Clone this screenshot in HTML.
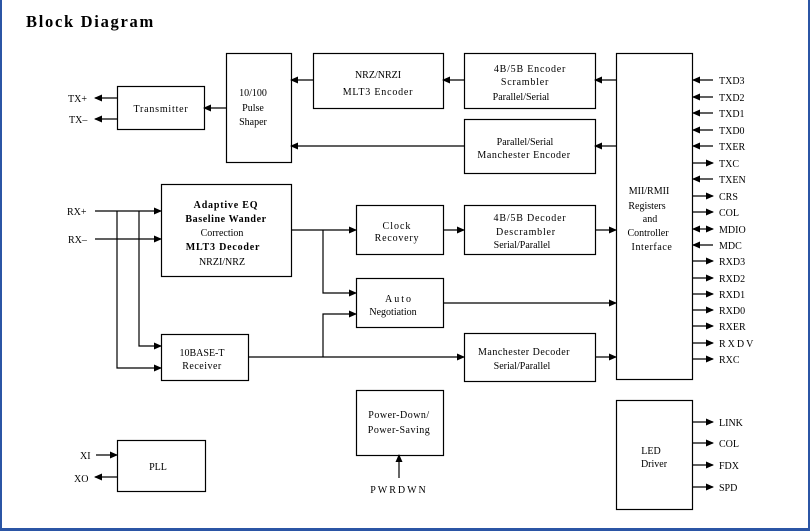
<!DOCTYPE html>
<html><head><meta charset="utf-8"><style>
html,body{margin:0;padding:0;background:#fff;}
svg{display:block;}
text{font-family:"Liberation Serif",serif;font-size:10px;fill:#000;}
</style></head><body>
<svg width="810" height="531" viewBox="0 0 810 531" xmlns="http://www.w3.org/2000/svg">
<defs>
<marker id="a" markerWidth="8" markerHeight="8" refX="7" refY="4" orient="auto" markerUnits="userSpaceOnUse">
<path d="M0,0.5 L8,4 L0,7.5 Z" fill="#000"/></marker>
</defs>
<rect x="0" y="0" width="810" height="531" fill="#fff"/>
<rect x="0" y="0" width="2" height="531" fill="#2b55a5"/>
<rect x="808" y="0" width="2" height="531" fill="#2b55a5"/>
<rect x="0" y="528" width="810" height="3" fill="#2b55a5"/>
<text x="26" y="27" style="font-size:16.5px;font-weight:bold;letter-spacing:1.7px">Block Diagram</text>
<g fill="none" stroke="#000" stroke-width="1.2">
<rect x="117.5" y="86.5" width="87" height="43"/>
<rect x="226.5" y="53.5" width="65" height="109"/>
<rect x="313.5" y="53.5" width="130" height="55"/>
<rect x="464.5" y="53.5" width="131" height="55"/>
<rect x="464.5" y="119.5" width="131" height="54"/>
<rect x="616.5" y="53.5" width="76" height="326"/>
<rect x="161.5" y="184.5" width="130" height="92"/>
<rect x="356.5" y="205.5" width="87" height="49"/>
<rect x="464.5" y="205.5" width="131" height="49"/>
<rect x="356.5" y="278.5" width="87" height="49"/>
<rect x="161.5" y="334.5" width="87" height="46"/>
<rect x="464.5" y="333.5" width="131" height="48"/>
<rect x="356.5" y="390.5" width="87" height="65"/>
<rect x="117.5" y="440.5" width="88" height="51"/>
<rect x="616.5" y="400.5" width="76" height="109"/>
</g>
<g stroke="#000" stroke-width="1.2" fill="none">
<line x1="616" y1="80" x2="595" y2="80" marker-end="url(#a)"/>
<line x1="616" y1="146" x2="595" y2="146" marker-end="url(#a)"/>
<line x1="464" y1="80" x2="443" y2="80" marker-end="url(#a)"/>
<line x1="313" y1="80" x2="291" y2="80" marker-end="url(#a)"/>
<line x1="464" y1="146" x2="291" y2="146" marker-end="url(#a)"/>
<line x1="226" y1="108" x2="204" y2="108" marker-end="url(#a)"/>
<line x1="117" y1="98" x2="95" y2="98" marker-end="url(#a)"/>
<line x1="117" y1="119" x2="95" y2="119" marker-end="url(#a)"/>
<line x1="95" y1="211" x2="161" y2="211" marker-end="url(#a)"/>
<line x1="95" y1="239" x2="161" y2="239" marker-end="url(#a)"/>
<polyline points="117,211 117,368 161,368" marker-end="url(#a)"/>
<polyline points="139,211 139,346 161,346" marker-end="url(#a)"/>
<line x1="291" y1="230" x2="356" y2="230" marker-end="url(#a)"/>
<polyline points="323,230 323,293 356,293" marker-end="url(#a)"/>
<line x1="248" y1="357" x2="464" y2="357" marker-end="url(#a)"/>
<polyline points="323,357 323,314 356,314" marker-end="url(#a)"/>
<line x1="443" y1="230" x2="464" y2="230" marker-end="url(#a)"/>
<line x1="595" y1="230" x2="616" y2="230" marker-end="url(#a)"/>
<line x1="443" y1="303" x2="616" y2="303" marker-end="url(#a)"/>
<line x1="595" y1="357" x2="616" y2="357" marker-end="url(#a)"/>
<line x1="96" y1="455" x2="117" y2="455" marker-end="url(#a)"/>
<line x1="117" y1="477" x2="95" y2="477" marker-end="url(#a)"/>
<line x1="399" y1="478" x2="399" y2="455" marker-end="url(#a)"/>
<line x1="713" y1="80" x2="693" y2="80" marker-end="url(#a)"/>
<line x1="713" y1="97" x2="693" y2="97" marker-end="url(#a)"/>
<line x1="713" y1="113" x2="693" y2="113" marker-end="url(#a)"/>
<line x1="713" y1="130" x2="693" y2="130" marker-end="url(#a)"/>
<line x1="713" y1="146" x2="693" y2="146" marker-end="url(#a)"/>
<line x1="693" y1="163" x2="713" y2="163" marker-end="url(#a)"/>
<line x1="713" y1="179" x2="693" y2="179" marker-end="url(#a)"/>
<line x1="693" y1="196" x2="713" y2="196" marker-end="url(#a)"/>
<line x1="693" y1="212" x2="713" y2="212" marker-end="url(#a)"/>
<line x1="703" y1="229" x2="693" y2="229" marker-end="url(#a)"/>
<line x1="703" y1="229" x2="713" y2="229" marker-end="url(#a)"/>
<line x1="713" y1="245" x2="693" y2="245" marker-end="url(#a)"/>
<line x1="693" y1="261" x2="713" y2="261" marker-end="url(#a)"/>
<line x1="693" y1="278" x2="713" y2="278" marker-end="url(#a)"/>
<line x1="693" y1="294" x2="713" y2="294" marker-end="url(#a)"/>
<line x1="693" y1="310" x2="713" y2="310" marker-end="url(#a)"/>
<line x1="693" y1="326" x2="713" y2="326" marker-end="url(#a)"/>
<line x1="693" y1="343" x2="713" y2="343" marker-end="url(#a)"/>
<line x1="693" y1="359" x2="713" y2="359" marker-end="url(#a)"/>
<line x1="693" y1="422" x2="713" y2="422" marker-end="url(#a)"/>
<line x1="693" y1="443" x2="713" y2="443" marker-end="url(#a)"/>
<line x1="693" y1="465" x2="713" y2="465" marker-end="url(#a)"/>
<line x1="693" y1="487" x2="713" y2="487" marker-end="url(#a)"/>
</g>
<g text-anchor="middle">
<text x="161" y="112" style="letter-spacing:0.8px">Transmitter</text>
<text x="253" y="96">10/100</text>
<text x="253" y="111">Pulse</text>
<text x="253" y="125">Shaper</text>
<text x="378" y="78">NRZ/NRZI</text>
<text x="378" y="95" style="letter-spacing:0.8px">MLT3 Encoder</text>
<text x="530" y="72" style="letter-spacing:0.8px">4B/5B Encoder</text>
<text x="525" y="85" style="letter-spacing:0.8px">Scrambler</text>
<text x="521" y="100">Parallel/Serial</text>
<text x="525" y="145">Parallel/Serial</text>
<text x="524" y="158" style="letter-spacing:0.6px">Manchester Encoder</text>
<text x="226" y="208" style="font-weight:bold;letter-spacing:0.8px">Adaptive EQ</text>
<text x="226" y="222" style="font-weight:bold;letter-spacing:0.6px">Baseline Wander</text>
<text x="222" y="236">Correction</text>
<text x="223" y="250" style="font-weight:bold;letter-spacing:0.8px">MLT3 Decoder</text>
<text x="222" y="265">NRZI/NRZ</text>
<text x="397" y="229" style="letter-spacing:1px">Clock</text>
<text x="397" y="241" style="letter-spacing:0.8px">Recovery</text>
<text x="530" y="221" style="letter-spacing:0.8px">4B/5B Decoder</text>
<text x="526" y="235" style="letter-spacing:0.8px">Descrambler</text>
<text x="522" y="248">Serial/Parallel</text>
<text x="399" y="302" style="letter-spacing:2px">Auto</text>
<text x="393" y="315">Negotiation</text>
<text x="202" y="356">10BASE-T</text>
<text x="202" y="369" style="letter-spacing:0.5px">Receiver</text>
<text x="524" y="355" style="letter-spacing:0.5px">Manchester Decoder</text>
<text x="522" y="369">Serial/Parallel</text>
<text x="399" y="418" style="letter-spacing:0.5px">Power-Down/</text>
<text x="399" y="433" style="letter-spacing:0.5px">Power-Saving</text>
<text x="399" y="493" style="letter-spacing:2px">PWRDWN</text>
<text x="158" y="470">PLL</text>
<text x="651" y="454">LED</text>
<text x="654" y="467">Driver</text>
<text x="649" y="194">MII/RMII</text>
<text x="647" y="209">Registers</text>
<text x="650" y="222">and</text>
<text x="648" y="236">Controller</text>
<text x="652" y="250" style="letter-spacing:0.6px">Interface</text>
</g>
<g>
<text x="68" y="102">TX+</text>
<text x="69" y="123">TX–</text>
<text x="67" y="215">RX+</text>
<text x="68" y="243">RX–</text>
<text x="80" y="459">XI</text>
<text x="74" y="482">XO</text>
<text x="719" y="84">TXD3</text>
<text x="719" y="101">TXD2</text>
<text x="719" y="117">TXD1</text>
<text x="719" y="134">TXD0</text>
<text x="719" y="150">TXER</text>
<text x="719" y="167">TXC</text>
<text x="719" y="183">TXEN</text>
<text x="719" y="200">CRS</text>
<text x="719" y="216">COL</text>
<text x="719" y="233">MDIO</text>
<text x="719" y="249">MDC</text>
<text x="719" y="265">RXD3</text>
<text x="719" y="282">RXD2</text>
<text x="719" y="298">RXD1</text>
<text x="719" y="314">RXD0</text>
<text x="719" y="330">RXER</text>
<text x="719" y="347" style="letter-spacing:2px">RXDV</text>
<text x="719" y="363">RXC</text>
<text x="719" y="426">LINK</text>
<text x="719" y="447">COL</text>
<text x="719" y="469">FDX</text>
<text x="719" y="491">SPD</text>
</g>
</svg>
</body></html>
